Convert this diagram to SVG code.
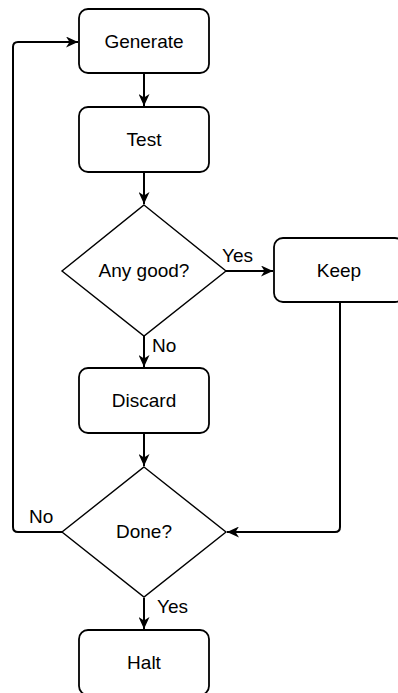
<svg xmlns="http://www.w3.org/2000/svg" width="398" height="693" viewBox="0 0 398 693">
<style>
.box{fill:#fff;stroke:#000;stroke-width:1.8}
.dia{fill:#fff;stroke:#000;stroke-width:1.4}
.t{font-family:"Liberation Sans",Arial,sans-serif;font-size:19px;fill:#000;text-anchor:middle}
.l{font-family:"Liberation Sans",Arial,sans-serif;font-size:19px;fill:#000}
.c{fill:none;stroke:#000;stroke-width:2;marker-end:url(#ah)}
</style>
<defs>
<marker id="ah" markerUnits="userSpaceOnUse" markerWidth="13" markerHeight="11" refX="12" refY="5.5" orient="auto" viewBox="0 0 13 11">
<path d="M0,0 L12,5.5 L0,11 L3.5,5.5 Z" fill="#000"/>
</marker>
</defs>
<g id="connectors">
<path class="c" d="M144,73 V106"/>
<path class="c" d="M144,172 V204"/>
<path class="c" d="M226,271 H273"/>
<path class="c" d="M144,336 V367"/>
<path class="c" d="M144,433 V466"/>
<path class="c" d="M144,598 V629"/>
<path class="c" d="M62,532 H18 Q13,532 13,527 V47 Q13,42 18,42 H78"/>
<path class="c" d="M340,302 V527 Q340,532 335,532 H227"/>
<text class="l" x="222" y="262">Yes</text>
<text class="l" x="152" y="352">No</text>
<text class="l" x="29" y="523">No</text>
<text class="l" x="157" y="613">Yes</text>
</g>
<g id="generate">
<rect class="box" x="79" y="9" width="130" height="64" rx="9"/>
<text class="t" x="144" y="48">Generate</text>
</g>
<g id="test">
<rect class="box" x="79" y="107" width="130" height="65" rx="9"/>
<text class="t" x="144" y="146">Test</text>
</g>
<g id="anygood">
<polygon class="dia" points="144,205 226,271 144,336 62,271"/>
<text class="t" x="144" y="277">Any good?</text>
</g>
<g id="keep">
<rect class="box" x="274" y="238" width="130" height="64" rx="9"/>
<text class="t" x="339" y="277">Keep</text>
</g>
<g id="discard">
<rect class="box" x="79" y="368" width="130" height="65" rx="9"/>
<text class="t" x="144" y="407">Discard</text>
</g>
<g id="done">
<polygon class="dia" points="144,467 226,532 144,597 62,532"/>
<text class="t" x="144" y="538">Done?</text>
</g>
<g id="halt">
<rect class="box" x="79" y="630" width="130" height="65" rx="9"/>
<text class="t" x="144" y="669">Halt</text>
</g>
</svg>
